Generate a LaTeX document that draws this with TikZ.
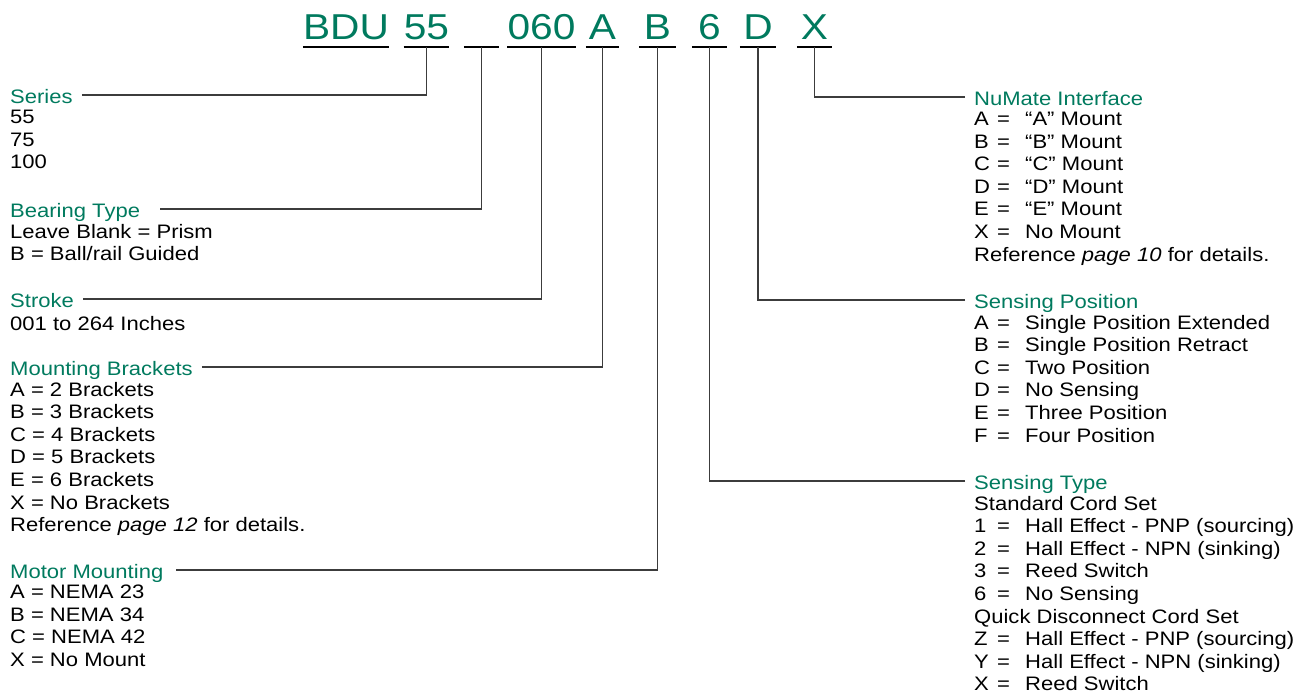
\documentclass[tikz,border=0pt]{standalone}
\usepackage{fontspec}
\setmainfont{Liberation Sans}[FakeStretch=1.13]
\usetikzlibrary{positioning}
\definecolor{pgreen}{RGB}{0,122,94}
\definecolor{leadgray}{RGB}{60,60,60}
\newcommand{\codeitem}[2]{\makebox[23pt][l]{#1}\makebox[28pt][l]{=}#2}

\tikzset{
	code/.style={anchor=base,inner sep=0pt,text=pgreen,text height=27pt,text depth=8pt,font=\fontsize{36}{40}\selectfont},
	head/.style={anchor=base west,inner sep=0pt,inner xsep=9pt,text=pgreen,text height=16pt,text depth=0pt,font=\fontsize{19.5}{22.6}\selectfont},
	list/.style={inner sep=0pt,align=left,font=\fontsize{19.5}{22.6}\selectfont,execute at begin node={\rule{0pt}{16pt}}},
	uline/.style={line width=2.3pt,black},
	lead/.style={line width=1.3pt,leadgray}
}

\begin{document}
\begin{tikzpicture}[x=1pt,y=-1pt]
	\useasboundingbox (0,0) rectangle (1307,696);
	% part number
	\draw (346,39) node (BDU) [code,minimum width=80pt] {BDU};
	\draw (426.5,39) node (F55) [code,minimum width=45pt] {55};
	\draw (481.5,39) node (Fbl) [code,minimum width=35pt] {};
	\draw (541.5,39) node (F060) [code,minimum width=59pt] {060};
	\draw (602.5,39) node (FA) [code,minimum width=33pt] {A};
	\draw (657.5,39) node (FB) [code,minimum width=37pt] {B};
	\draw (709.5,39) node (F6) [code,minimum width=35pt] {6};
	\draw (758,39) node (FD) [code,minimum width=36pt] {D};
	\draw (814.5,39) node (FX) [code,minimum width=35pt] {X};
	\foreach \f in {BDU,F55,Fbl,F060,FA,FB,F6,FD,FX}
		\draw[uline] (\f.south west) -- (\f.south east);
	
	% left side
	\draw (1,103) node (Hser) [head] {Series};
	\node (Lser) [list,below right=6.6pt and 9pt of Hser.south west] {55\\75\\100};
	\draw (1,217) node (Hbear) [head] {Bearing Type};
	\node (Lbear) [list,below right=6.6pt and 9pt of Hbear.south west] {Leave Blank = Prism\\B = Ball/rail Guided};
	\draw (1,307) node (Hstr) [head] {Stroke};
	\node (Lstr) [list,below right=6.6pt and 9pt of Hstr.south west] {001 to 264 Inches};
	\draw (1,375) node (Hmnt) [head] {Mounting Brackets};
	\node (Lmnt) [list,below right=6.6pt and 9pt of Hmnt.south west] {A = 2 Brackets\\B = 3 Brackets\\C = 4 Brackets\\D = 5 Brackets\\E = 6 Brackets\\X = No Brackets\\Reference \textit{page 12} for details.};
	\draw (1,578) node (Hmot) [head] {Motor Mounting};
	\node (Lmot) [list,below right=6.6pt and 9pt of Hmot.south west] {A = NEMA 23\\B = NEMA 34\\C = NEMA 42\\X = No Mount};
	
	% right side
	\draw (965,105) node (Hnum) [head] {NuMate Interface};
	\node (Lnum) [list,below right=6.6pt and 9pt of Hnum.south west] {\codeitem{A}{“A” Mount}\\\codeitem{B}{“B” Mount}\\\codeitem{C}{“C” Mount}\\\codeitem{D}{“D” Mount}\\\codeitem{E}{“E” Mount}\\\codeitem{X}{No Mount}\\Reference \textit{page 10} for details.};
	\draw (965,308) node (Hpos) [head] {Sensing Position};
	\node (Lpos) [list,below right=6.6pt and 9pt of Hpos.south west] {\codeitem{A}{Single Position Extended}\\\codeitem{B}{Single Position Retract}\\\codeitem{C}{Two Position}\\\codeitem{D}{No Sensing}\\\codeitem{E}{Three Position}\\\codeitem{F}{Four Position}};
	\draw (965,489) node (Htyp) [head] {Sensing Type};
	\node (Ltyp) [list,below right=6.6pt and 9pt of Htyp.south west] {Standard Cord Set\\\codeitem{1}{Hall Effect - PNP (sourcing)}\\\codeitem{2}{Hall Effect - NPN (sinking)}\\\codeitem{3}{Reed Switch}\\\codeitem{6}{No Sensing}\\Quick Disconnect Cord Set\\\codeitem{Z}{Hall Effect - PNP (sourcing)}\\\codeitem{Y}{Hall Effect - NPN (sinking)}\\\codeitem{X}{Reed Switch}};
	
	% leaders
	\draw[lead] (Hser.east) -| (F55.south);
	\draw[lead] ([xshift=11pt]Hbear.east) -| (Fbl.south);
	\draw[lead] (Hstr.east) -| (F060.south);
	\draw[lead] (Hmnt.east) -| (FA.south);
	\draw[lead] ([xshift=4pt]Hmot.east) -| (FB.south);
	\draw[lead] (Hnum.west) -| (FX.south);
	\draw[lead] (Hpos.west) -| (FD.south);
	\draw[lead] (Htyp.west) -| (F6.south);
\end{tikzpicture}
\end{document}
